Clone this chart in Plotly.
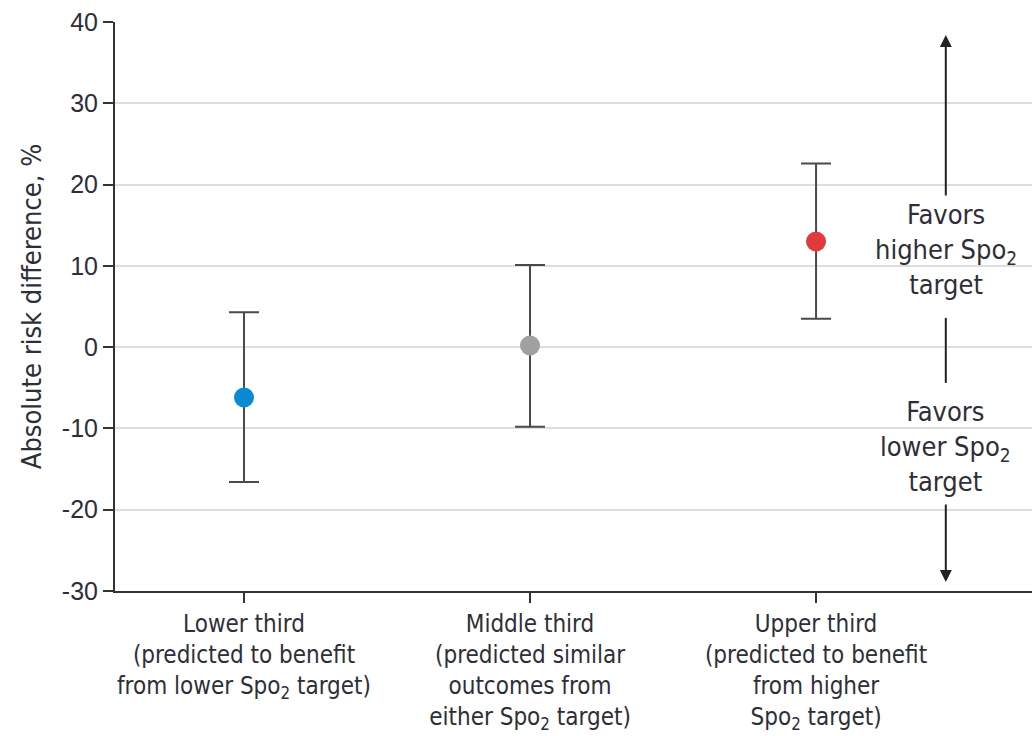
import plotly.graph_objects as go

categories = ["Lower third", "Middle third", "Upper third"]
tick_labels = [
    "Lower third<br>(predicted to benefit<br>from lower Spo<sub>2</sub> target)",
    "Middle third<br>(predicted similar<br>outcomes from<br>either Spo<sub>2</sub> target)",
    "Upper third<br>(predicted to benefit<br>from higher<br>Spo<sub>2</sub> target)",
]
risk_diff = [-6.2, 0.2, 13.0]
ci_upper = [4.3, 10.1, 22.6]
ci_lower = [-16.6, -9.8, 3.5]
point_colors = ["#0a8ad2", "#a0a0a0", "#e03a3e"]
y_ticks = [-30, -20, -10, 0, 10, 20, 30, 40]

TEXT = "#2e2e38"
NARROW = "Liberation Sans Narrow, Arial Narrow, DejaVu Sans Condensed, sans-serif"

fig = go.Figure()
fig.add_trace(go.Scatter(
    x=categories,
    y=risk_diff,
    mode="markers",
    marker=dict(size=20, color=point_colors, line=dict(width=0)),
    error_y=dict(
        type="data",
        symmetric=False,
        array=[u - v for u, v in zip(ci_upper, risk_diff)],
        arrayminus=[v - l for v, l in zip(risk_diff, ci_lower)],
        color="#4a4a4a",
        thickness=2,
        width=15,
    ),
    showlegend=False,
    hoverinfo="skip",
))

fig.update_layout(
    width=1032,
    height=736,
    margin=dict(l=115, r=0, t=22, b=145),
    paper_bgcolor="white",
    plot_bgcolor="white",
    font=dict(family=NARROW, color=TEXT, size=24),
    xaxis=dict(
        type="category",
        range=[-0.451, 2.755],
        tickmode="array",
        tickvals=categories,
        ticktext=tick_labels,
        ticks="outside",
        ticklen=10,
        tickwidth=2,
        tickcolor="#333333",
        showline=True,
        linecolor="#333333",
        linewidth=2,
        showgrid=False,
        zeroline=False,
        automargin=False,
        tickfont=dict(family=NARROW, size=24, color=TEXT),
        fixedrange=True,
    ),
    yaxis=dict(
        range=[-30, 40],
        tickmode="array",
        tickvals=y_ticks,
        ticktext=[("-" + str(abs(v))) if v < 0 else str(v) for v in y_ticks],
        ticks="outside",
        ticklen=10,
        tickwidth=2,
        tickcolor="#333333",
        showline=True,
        linecolor="#333333",
        linewidth=2,
        showgrid=True,
        gridcolor="#dedede",
        gridwidth=2,
        zeroline=False,
        automargin=False,
        tickfont=dict(family="Liberation Sans, Arial, sans-serif", size=25, color=TEXT),
        title=dict(text="Absolute risk difference, %",
                   font=dict(family=NARROW, size=27, color=TEXT), standoff=12),
        fixedrange=True,
    ),
)

ax_x = 0.906
# upward arrow
fig.add_annotation(x=ax_x, xref="paper", y=38.4, yref="y", ax=0, ay=162,
                   showarrow=True, arrowhead=2, arrowsize=1.2, arrowwidth=2,
                   arrowcolor="#222222", text="")
# downward arrow
fig.add_annotation(x=ax_x, xref="paper", y=-28.9, yref="y", ax=0, ay=-79,
                   showarrow=True, arrowhead=2, arrowsize=1.2, arrowwidth=2,
                   arrowcolor="#222222", text="")
# middle line
fig.add_shape(type="line", xref="paper", yref="y", x0=ax_x, x1=ax_x, y0=3.6, y1=-4.4,
              line=dict(color="#222222", width=2))
fig.add_annotation(x=ax_x, xref="paper", xanchor="center", y=12.05, yref="y",
                   yanchor="middle", showarrow=False,
                   text="Favors<br>higher Spo<sub>2</sub><br>target",
                   font=dict(family=NARROW, size=27, color=TEXT), align="center")
fig.add_annotation(x=ax_x, xref="paper", xanchor="center", y=-12.2, yref="y",
                   yanchor="middle", showarrow=False,
                   text="Favors<br>lower Spo<sub>2</sub><br>target",
                   font=dict(family=NARROW, size=27, color=TEXT), align="center")

fig.write_html("out.html")
